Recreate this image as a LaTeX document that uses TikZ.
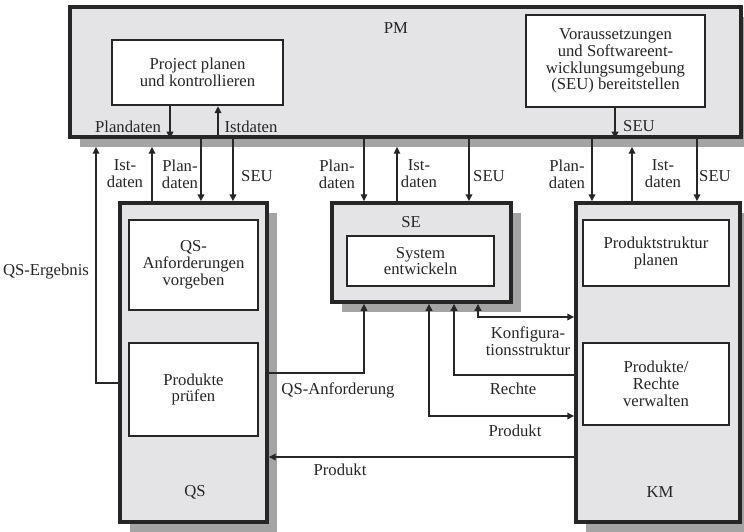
\documentclass[tikz,border=0pt]{standalone}
\usepackage{fontspec}
\setmainfont{Liberation Serif}
\usetikzlibrary{arrows.meta,positioning,shadows}
\definecolor{Frame}{HTML}{E4E4E6}
\definecolor{Shade}{HTML}{A4A4A4}
\definecolor{Ink}{HTML}{262626}

\begin{document}
\begin{tikzpicture}[x=0.02cm,y=-0.02cm,
  every node/.style={font=\fontsize{9.5}{9.6}\selectfont,align=center,text=Ink},
  area/.style={rectangle,draw=Ink,line width=2pt,fill=Frame,
    drop shadow={shadow xshift=0.2cm,shadow yshift=-0.2cm,fill=Shade,opacity=1}},
  task/.style={rectangle,draw=Ink,line width=1.3pt,fill=white},
  flow/.style={-{Triangle[length=1.4mm,width=1.3mm]},line width=1.6pt,draw=Ink},
  thinflow/.style={flow,line width=0.8pt},
  both/.style={{Triangle[length=1.4mm,width=1.3mm]}-{Triangle[length=1.4mm,width=1.3mm]},
    line width=1.6pt,draw=Ink}
]
\useasboundingbox (0,0) rectangle (744,531);

% PM
\node[area,minimum width=13.42cm,minimum height=2.6cm] (pm) at (405.5,72) {};
\node (pmlabel) at (396,28) {PM};
\node[task,minimum width=3.42cm,minimum height=1.3cm] (plan) at (197.5,72.5) {Project planen\\und kontrollieren};
\node[task,minimum width=3.58cm,minimum height=1.84cm] (env) at (615.5,61) {Voraussetzungen\\und Softwareent-\\wicklungsumgebung\\(SEU) bereitstellen};

% QS
\node[area,minimum width=2.94cm,minimum height=6.38cm] (qs) at (193.5,362.5) {};
\node[task,minimum width=2.58cm,minimum height=1.8cm] (qsreq) at (193.5,265) {QS-\\Anforderungen\\vorgeben};
\node[task,minimum width=2.58cm,minimum height=1.86cm] (qstest) at (193.5,389.5) {Produkte\\prüfen};
\node (qslabel) at (195,492) {QS};

% SE
\node[area,minimum width=3.58cm,minimum height=1.98cm] (se) at (421.5,252.5) {};
\node (selabel) at (411,222) {SE};
\node[task,minimum width=2.94cm,minimum height=1cm] (sedev) at (420.5,261) {System\\entwickeln};

% KM
\node[area,minimum width=3.28cm,minimum height=6.38cm] (km) at (658,362.5) {};
\node[task,minimum width=2.92cm,minimum height=1.32cm] (kmplan) at (656,253) {Produktstruktur\\planen};
\node[task,minimum width=2.92cm,minimum height=1.64cm] (kmman) at (656,384) {Produkte/\\Rechte\\verwalten};
\node (kmlabel) at (660,492) {KM};

% columns and rows of the connectors
\coordinate (pmfoot) at ([yshift=-0.16cm]pm.south);
\foreach \n/\x in {pp/170,pi/218,eu/615,qe/96,qi/152,qp/201,qu/233,
    sp/364,si/397,su/469,kp/592,ki/632,ku/697,sr/429,sq/454,sk/478}
  \coordinate (\n) at (\x,0);
\foreach \n/\y in {rk/317,rq/373,rr/375,re/383,rp/416,rb/457}
  \coordinate (\n) at (0,\y);

% inside PM
\draw[flow] (pp |- plan.south) -- (pp |- pm.south);
\draw[flow] (pi |- pm.south) -- (pi |- plan.south);
\draw[flow] (eu |- env.south) -- (eu |- pm.south);
\node (lplan) at (128,127) {Plandaten};
\node (list) at (251,127) {Istdaten};
\node (lseu) at (639,126) {SEU};

% PM <-> QS, SE, KM
\draw[flow] (qi |- qs.north) -- (qi |- pmfoot);
\draw[flow] (qp |- pm.south) -- (qp |- qs.north);
\draw[flow] (qu |- pm.south) -- (qu |- qs.north);
\draw[thinflow] (sp |- pm.south) -- (sp |- se.north);
\draw[thinflow] (si |- se.north) -- (si |- pmfoot);
\draw[flow] (su |- pm.south) -- (su |- se.north);
\draw[flow] (kp |- pm.south) -- (kp |- km.north);
\draw[flow] (ki |- km.north) -- (ki |- pmfoot);
\draw[flow] (ku |- pm.south) -- (ku |- km.north);
\node (qsist) at (125,174) {Ist-\\daten};
\node (qsplan) at (180,174) {Plan-\\daten};
\node (qsseu) at (257,176) {SEU};
\node (seplan) at (337,174) {Plan-\\daten};
\node (seist) at (419,174) {Ist-\\daten};
\node (seseu) at (489,176) {SEU};
\node (kmplantxt) at (567,174) {Plan-\\daten};
\node (kmist) at (663,174) {Ist-\\daten};
\node (kmseu) at (715,176) {SEU};

% QS-Ergebnis
\draw[flow] (qs.west |- re) -| (qe |- pmfoot);
\node (lres) at (46,272) {QS-Ergebnis};

% between QS, SE and KM
\draw[thinflow] (qs.east |- rq) -| (sp |- se.south);
\node (lreq) at (338,390) {QS-Anforderung};
\draw[both] (sk |- se.south) |- (km.west |- rk);
\node (lconf) at (528,341) {Konfigura-\\tionsstruktur};
\draw[flow] (km.west |- rr) -| (sq |- se.south);
\node (lright) at (513,389) {Rechte};
\draw[both] (sr |- se.south) |- (km.west |- rp);
\node (lprod) at (515,431) {Produkt};
\draw[flow] (km.west |- rb) -- (qs.east |- rb);
\node (lprodqs) at (340,470) {Produkt};
\end{tikzpicture}
\end{document}
